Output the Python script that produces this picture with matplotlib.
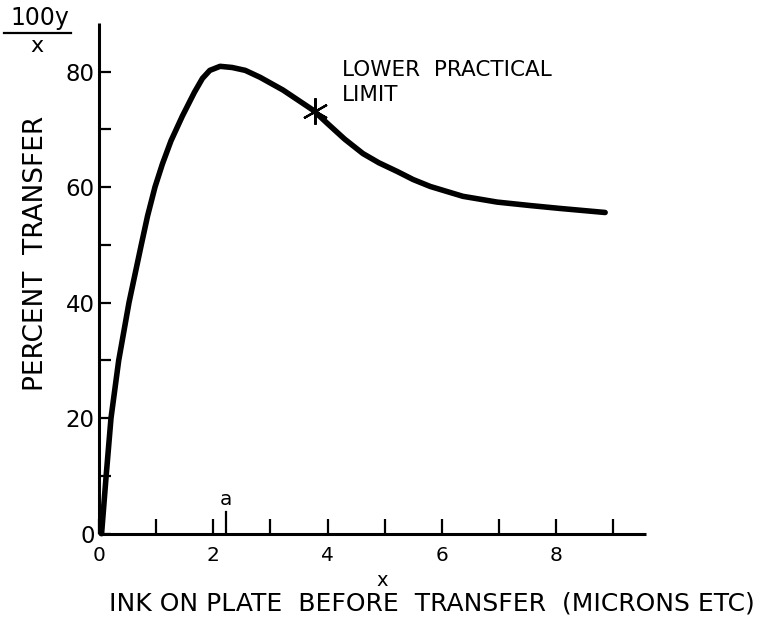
import matplotlib
matplotlib.use("Agg")
import matplotlib.pyplot as plt
from matplotlib.ticker import FixedLocator

# Ink film on plate (microns) vs. percent transferred
ink_on_plate = [0.045, 0.125, 0.21, 0.345, 0.525, 0.74, 0.85, 0.98,
                1.11, 1.26, 1.46, 1.67, 1.81, 1.94, 2.12, 2.33, 2.56,
                2.82, 3.22, 3.75, 4.00, 4.30, 4.62, 4.90, 5.22, 5.50,
                5.80, 6.37, 6.97, 7.55, 8.07, 8.86]
percent_transfer = [0.0, 10.0, 20.0, 30.0, 40.0, 50.0, 55.0, 60.0,
                    64.0, 68.0, 72.3, 76.4, 78.8, 80.2, 80.9, 80.7, 80.2,
                    79.0, 76.8, 73.3, 71.0, 68.3, 65.8, 64.2, 62.7, 61.3,
                    60.1, 58.4, 57.4, 56.8, 56.3, 55.6]

limit_x, limit_y = 3.78, 73.1     # lower practical limit
a_x = 2.22                        # point "a" on the x axis

x_major = [0, 2, 4, 6, 8]
x_minor = [1, 3, 5, 7, 9]
y_major = [0, 20, 40, 60, 80]
y_minor = [10, 30, 50, 70]

W, H = 767, 622
fig = plt.figure(figsize=(W / 100, H / 100), dpi=100)
fig.patch.set_facecolor("white")

def fx(px):
    return px / W

def fy(py):
    return 1 - py / H

ax = fig.add_axes([fx(99), fy(533.7), (645.7 - 99) / W, (533.7 - 23) / H])
ax.set_xlim(0, 9.57)
ax.set_ylim(0, 88.4)

for side in ("top", "right"):
    ax.spines[side].set_visible(False)
for side in ("left", "bottom"):
    ax.spines[side].set_linewidth(2.2)
    ax.spines[side].set_color("black")
    ax.spines[side].set_capstyle("butt")

ax.xaxis.set_major_locator(FixedLocator(x_major))
ax.xaxis.set_minor_locator(FixedLocator(x_minor))
ax.yaxis.set_major_locator(FixedLocator(y_major))
ax.yaxis.set_minor_locator(FixedLocator(y_minor))
ax.set_xticklabels([str(v) for v in x_major])
ax.set_yticklabels([str(v) for v in y_major])

ax.tick_params(axis="x", which="both", direction="in", length=10.5, width=1.6,
               pad=9, labelsize=14.5)
ax.tick_params(axis="y", which="both", direction="in", length=8.5, width=1.6,
               pad=3, labelsize=16.5)

# curve
ax.plot(ink_on_plate, percent_transfer, color="black", lw=4.0,
        solid_joinstyle="round", solid_capstyle="round", clip_on=False)

# lower practical limit marker
ax.plot([limit_x], [limit_y], marker=(6, 2, 0), ms=19, mew=1.6,
        color="black", clip_on=False)
ax.text(limit_x + 0.48, 80.3, "LOWER  PRACTICAL", fontsize=15.5,
        ha="left", va="center")
ax.text(limit_x + 0.48, 76.0, "LIMIT", fontsize=15.5, ha="left", va="center")

# point "a" tick
ax.plot([a_x, a_x], [0, 3.8], color="black", lw=1.6, clip_on=False)
ax.text(a_x, 5.9, "a", fontsize=14.5, ha="center", va="center")

# axis titles
fig.text(fx(36), fy(253), "PERCENT  TRANSFER", rotation=90, fontsize=19,
         ha="center", va="center")
fig.text(fx(40), fy(18), "100y", fontsize=17, ha="center", va="center")
fig.add_artist(plt.Line2D([fx(4), fx(71)], [fy(33), fy(33)],
                          color="black", lw=1.6))
fig.text(fx(37), fy(46), "x", fontsize=16, ha="center", va="center")

fig.text(fx(382), fy(580), "x", fontsize=14, ha="center", va="center")
fig.text(fx(432), fy(603), "INK ON PLATE  BEFORE  TRANSFER  (MICRONS ETC)",
         fontsize=18, ha="center", va="center")

fig.savefig("out.png", dpi=100, facecolor="white")
